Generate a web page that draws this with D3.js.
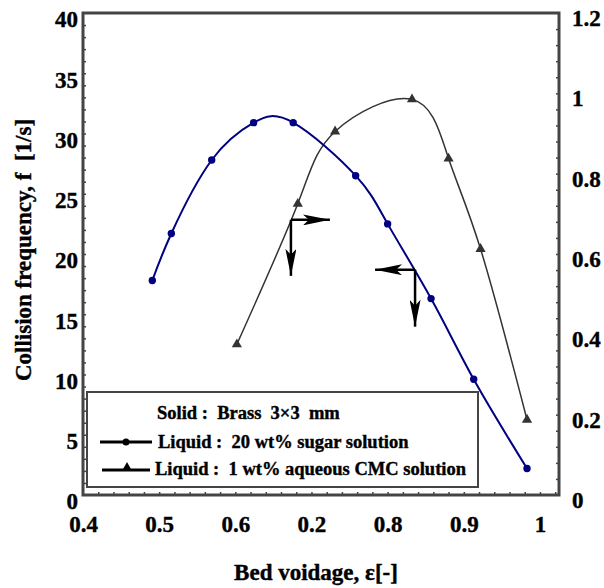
<!DOCTYPE html>
<html>
<head>
<meta charset="utf-8">
<script src="https://cdn.jsdelivr.net/npm/d3@7"></script>
<style>
  body { margin: 0; background: #fff; }
  text { font-family: "Liberation Serif", "Times New Roman", serif; font-weight: bold; fill: #000; stroke: #000; stroke-width: 0.4px; }
</style>
</head>
<body>
<div id="canvas"></div>
<script>
// bed voidage (x) and collision frequency, 20 wt% sugar solution (left axis)
const sugarVoidage = [0.491, 0.516, 0.569, 0.624, 0.676, 0.758, 0.800, 0.857, 0.913, 0.983];
const sugarFreq = [17.8, 21.7, 27.8, 30.9, 30.9, 26.5, 22.5, 16.3, 9.6, 2.2];
// 1 wt% aqueous CMC solution (right axis)
const cmcVoidage = [0.602, 0.682, 0.731, 0.832, 0.880, 0.922, 0.983];
const cmcValue = [0.375, 0.725, 0.905, 0.985, 0.8375, 0.6125, 0.1875];

const xTickValues = [0.4, 0.5, 0.6, 0.7, 0.8, 0.9, 1.0];
const xTickLabels = ["0.4", "0.5", "0.6", "0.2", "0.8", "0.9", "1"];
const leftTicks = [0, 5, 10, 15, 20, 25, 30, 35, 40];
const rightTicks = [0, 0.2, 0.4, 0.6, 0.8, 1, 1.2];

const margin = {
    Top: 13,
    Right: 45,
    Bottom: 93,
    Left: 83
};
const width = 604 - margin.Left - margin.Right;
const height = 588 - margin.Top - margin.Bottom;

const svg = d3.select('#canvas').append("svg")
    .attr("width", width + margin.Left + margin.Right)
    .attr("height", height + margin.Top + margin.Bottom);

const defs = svg.append("defs");
defs.append("marker")
    .attr("id", "head")
    .attr("viewBox", "0 0 27 11")
    .attr("refX", 27).attr("refY", 5.5)
    .attr("markerWidth", 27).attr("markerHeight", 11)
    .attr("markerUnits", "userSpaceOnUse")
    .attr("orient", "auto")
    .append("path")
    .attr("d", "M0,0 L27,5.5 L0,11 L6,5.5 Z")
    .attr("fill", "#000");

const g = svg.append("g")
    .attr("transform", `translate(${margin.Left}, ${margin.Top})`);

const x = d3.scaleLinear().domain([0.4, 1.025]).range([0, width]);
const yL = d3.scaleLinear().domain([0, 40]).range([height, 0]);
const yR = d3.scaleLinear().domain([0, 1.2]).range([height, 0]);

// minor ticks (inward)
g.append("g")
    .attr("transform", `translate(0, ${height})`)
    .call(d3.axisBottom(x).tickValues(d3.range(0.42, 1.02, 0.02)).tickSize(-3).tickFormat(""))
    .call(a => a.select(".domain").remove())
    .selectAll("line").attr("stroke", "#444").attr("stroke-width", 1.5);
g.append("g")
    .call(d3.axisLeft(yL).tickValues(d3.range(1, 40, 1)).tickSize(-3).tickFormat(""))
    .call(a => a.select(".domain").remove())
    .selectAll("line").attr("stroke", "#444").attr("stroke-width", 1.5);
g.append("g")
    .attr("transform", `translate(${width}, 0)`)
    .call(d3.axisRight(yR).tickValues(d3.range(0.04, 1.2, 0.04)).tickSize(-3).tickFormat(""))
    .call(a => a.select(".domain").remove())
    .selectAll("line").attr("stroke", "#444").attr("stroke-width", 1.5);

// labelled axes
const xAxis = g.append("g")
    .attr("transform", `translate(0, ${height})`)
    .call(d3.axisBottom(x).tickValues(xTickValues).tickSize(0).tickPadding(21)
        .tickFormat((d, i) => xTickLabels[i]));
xAxis.select(".domain").remove();
xAxis.selectAll("text").attr("font-size", 23).attr("font-family", null);

const yAxisL = g.append("g")
    .call(d3.axisLeft(yL).tickValues(leftTicks).tickSize(0).tickPadding(5));
yAxisL.select(".domain").remove();
yAxisL.selectAll("text").attr("font-size", 23).attr("font-family", null).attr("dy", "0.6em");

const yAxisR = g.append("g")
    .attr("transform", `translate(${width}, 0)`)
    .call(d3.axisRight(yR).tickValues(rightTicks).tickSize(0).tickPadding(13)
        .tickFormat(d => d3.format("~g")(d)));
yAxisR.select(".domain").remove();
yAxisR.selectAll("text").attr("font-size", 23).attr("font-family", null).attr("dy", "0.55em");

// frame
g.append("rect")
    .attr("width", width).attr("height", height)
    .attr("fill", "none").attr("stroke", "#444").attr("stroke-width", 3);

// axis titles
svg.append("text")
    .attr("transform", `translate(31, ${margin.Top + 237}) rotate(-90)`)
    .attr("text-anchor", "middle")
    .attr("font-size", 23)
    .style("white-space", "pre")
    .text("Collision frequency, f  [1/s]");
svg.append("text")
    .attr("x", 316).attr("y", 580)
    .attr("text-anchor", "middle")
    .attr("font-size", 23)
    .text("Bed voidage, ε[-]");

// curves
const sugar = sugarVoidage.map((v, i) => ({ x: v, y: sugarFreq[i] }));
const cmc = cmcVoidage.map((v, i) => ({ x: v, y: cmcValue[i] }));

g.append("path")
    .datum(cmc)
    .attr("fill", "none").attr("stroke", "#333").attr("stroke-width", 1.5)
    .attr("d", d3.line().x(d => x(d.x)).y(d => yR(d.y)).curve(d3.curveNatural));
g.append("path")
    .datum(sugar)
    .attr("fill", "none").attr("stroke", "#000080").attr("stroke-width", 2)
    .attr("d", d3.line().x(d => x(d.x)).y(d => yL(d.y)).curve(d3.curveNatural));

const tri = d3.symbol().type(d3.symbolTriangle).size(45);
g.selectAll(".tri")
    .data(cmc).enter().append("path")
    .attr("class", "tri")
    .attr("transform", d => `translate(${x(d.x)}, ${yR(d.y)})`)
    .attr("d", tri)
    .attr("fill", "#333");
g.selectAll(".dot")
    .data(sugar).enter().append("circle")
    .attr("class", "dot")
    .attr("cx", d => x(d.x)).attr("cy", d => yL(d.y))
    .attr("r", 3.7)
    .attr("fill", "#000080");

// axis-pointer arrows: corner on the curve, horizontal direction, vertical length
const pointers = [
    { x: 0.673, y: yR(0.685), dx: 39, dy: 56 },
    { x: 0.836, y: yL(18.7), dx: -40, dy: 57 }
];
pointers.forEach(p => {
    const px = x(p.x), py = p.y;
    g.append("line")
        .attr("x1", px).attr("y1", py).attr("x2", px + p.dx).attr("y2", py)
        .attr("stroke", "#000").attr("stroke-width", 2.5).attr("marker-end", "url(#head)");
    g.append("line")
        .attr("x1", px).attr("y1", py).attr("x2", px).attr("y2", py + p.dy)
        .attr("stroke", "#000").attr("stroke-width", 2.5).attr("marker-end", "url(#head)");
});

// legend
const lg = svg.append("g");
lg.append("rect")
    .attr("x", 87).attr("y", 392).attr("width", 391).attr("height", 95)
    .attr("fill", "#fff").attr("stroke", "#444").attr("stroke-width", 2);
lg.append("text").attr("x", 157).attr("y", 419).attr("font-size", 18.5)
    .style("white-space", "pre").text("Solid :  Brass  3×3  mm");
lg.append("line").attr("x1", 100).attr("x2", 152).attr("y1", 442).attr("y2", 442)
    .attr("stroke", "#000").attr("stroke-width", 3);
lg.append("circle").attr("cx", 126).attr("cy", 442).attr("r", 3.5).attr("fill", "#000");
lg.append("text").attr("x", 158).attr("y", 448).attr("font-size", 18.5)
    .style("white-space", "pre").text("Liquid :  20 wt% sugar solution");
lg.append("line").attr("x1", 102).attr("x2", 150).attr("y1", 470).attr("y2", 470)
    .attr("stroke", "#000").attr("stroke-width", 3);
lg.append("path").attr("transform", "translate(127, 468)").attr("d", tri).attr("fill", "#000");
lg.append("text").attr("x", 155).attr("y", 475).attr("font-size", 18.5)
    .style("white-space", "pre").text("Liquid :  1 wt% aqueous CMC solution");
</script>
</body>
</html>
